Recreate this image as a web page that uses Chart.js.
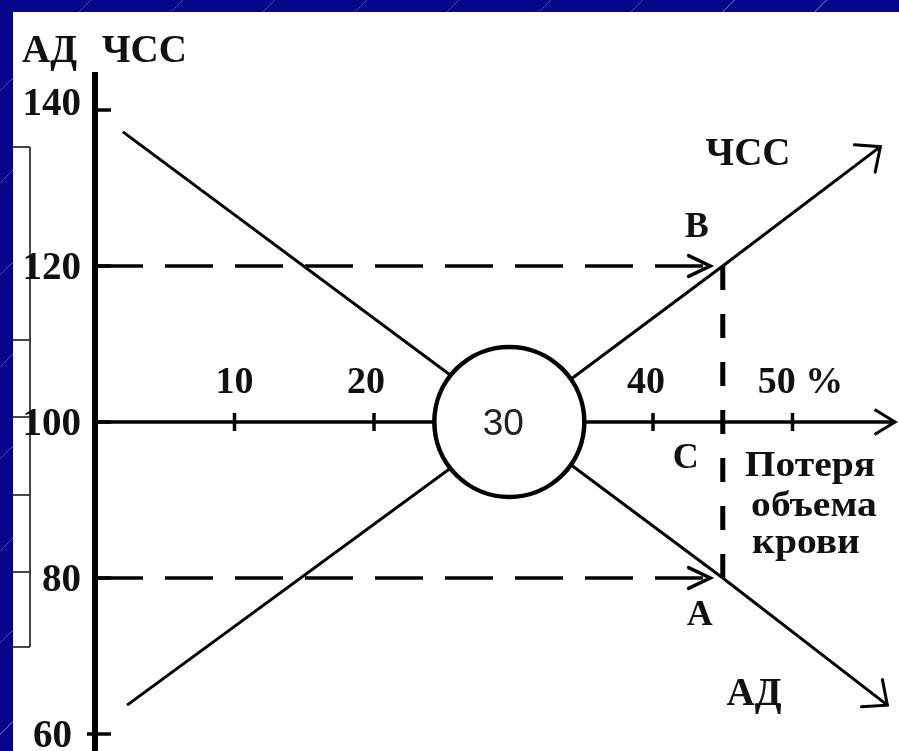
<!DOCTYPE html>
<html>
<head>
<meta charset="utf-8">
<script src="https://cdn.jsdelivr.net/npm/chart.js@4.4.1/dist/chart.umd.min.js"></script>
<style>
  html, body { margin: 0; padding: 0; }
  #frame {
    position: relative; width: 899px; height: 751px; overflow: hidden;
    background-color: #06068c;
    background-image: repeating-linear-gradient(135deg, transparent 0 64px, rgba(140,150,255,0.45) 64px 65px);
  }
  #sheet { position: absolute; left: 13px; top: 12px; right: 0; bottom: 0; background: #fff; }
  #chart { position: absolute; left: 0; top: 0; }
</style>
</head>
<body>
<div id="frame">
  <div id="sheet"></div>
  <canvas id="chart" width="899" height="751"></canvas>
</div>
<script>
// ЧСС (heart rate) and АД (blood pressure) against blood volume loss, %
const hrLoss = [2.3, 30, 45, 56.3];
const hrValue = [63.7, 100, 120, 135.3];
const bpLoss = [2.0, 30, 45, 56.8];
const bpValue = [137.2, 100, 80, 63.7];

const circleLoss = 29.7;   // circled "30"
const circleValue = 100;
const markLoss = 45;       // point C
const markHr = 120;        // point B
const markBp = 80;         // point A
const guideEnd = 44.1;     // where the dashed arrows stop

const xTicks = [10, 20, 30, 40, 50];
const xTickLabels = ['10', '20', '', '40', '50 %'];
const yTicks = [60, 80, 100, 120, 140];
const yTickLabels = ['60', '80', '100', '120', '140'];
const xAxisEnd = 57.35;

const serif = '"Liberation Serif", "Times New Roman", serif';

function seg(ctx, x1, y1, x2, y2) {
  ctx.beginPath();
  ctx.moveTo(x1, y1);
  ctx.lineTo(x2, y2);
  ctx.stroke();
}

function arrowHead(ctx, fx, fy, tx, ty, len, spread) {
  const a = Math.atan2(ty - fy, tx - fx);
  ctx.beginPath();
  ctx.moveTo(tx - len * Math.cos(a - spread), ty - len * Math.sin(a - spread));
  ctx.lineTo(tx, ty);
  ctx.lineTo(tx - len * Math.cos(a + spread), ty - len * Math.sin(a + spread));
  ctx.stroke();
}

function label(ctx, str, x, y, font, align, sx) {
  ctx.save();
  ctx.font = font;
  ctx.textAlign = align || 'center';
  ctx.textBaseline = 'alphabetic';
  ctx.translate(x, y);
  ctx.scale(sx || 1, 1);
  ctx.fillText(str, 0, 0);
  ctx.restore();
}

const sketch = {
  id: 'sketch',
  beforeDatasetsDraw(chart) {
    const {ctx, chartArea, scales: {x, y}} = chart;
    const y0 = y.getPixelForValue(100);
    const x0 = x.getPixelForValue(0);
    ctx.save();
    ctx.strokeStyle = '#000';
    ctx.lineCap = 'butt';

    // x axis with arrow
    ctx.lineWidth = 3.5;
    const xEnd = x.getPixelForValue(xAxisEnd);
    seg(ctx, x0, y0, xEnd, y0);
    ctx.lineWidth = 3;
    arrowHead(ctx, x0, y0, xEnd, y0, 24, 0.55);
    ctx.lineWidth = 3.5;
    xTicks.forEach(v => {
      const px = x.getPixelForValue(v);
      seg(ctx, px, y0 - 9, px, y0 + 9);
    });

    // y axis
    ctx.lineWidth = 6;
    seg(ctx, x0, chartArea.top, x0, chartArea.bottom);
    ctx.lineWidth = 3.5;
    yTicks.forEach((v, i) => {
      const py = y.getPixelForValue(v);
      seg(ctx, x0 - (i === 0 ? 8 : 0), py, x0 + 16, py);
    });

    // clipped bracket on the left edge of the slide
    ctx.strokeStyle = '#333';
    ctx.lineWidth = 1.8;
    seg(ctx, 30, 147, 30, 647);
    [147, 340, 417, 495, 572, 647].forEach(py => seg(ctx, 13, py, 30, py));
    ctx.restore();
  },
  afterDatasetsDraw(chart) {
    const {ctx, scales: {x, y}} = chart;
    ctx.save();
    ctx.strokeStyle = '#000';
    ctx.lineCap = 'round';
    chart.data.datasets.forEach((ds, i) => {
      if (!ds.arrow) return;
      const pts = chart.getDatasetMeta(i).data;
      const a = pts[pts.length - 2], b = pts[pts.length - 1];
      ctx.lineWidth = ds.borderWidth;
      arrowHead(ctx, a.x, a.y, b.x, b.y, ds.arrow.len, ds.arrow.spread);
    });

    ctx.fillStyle = '#111';
    const big = 'bold 39px ' + serif;
    const mid = 'bold 36px ' + serif;

    // axis titles
    label(ctx, 'АД', 22, 62, big, 'left');
    label(ctx, 'ЧСС', 102, 62, big, 'left');

    // y tick labels
    const yNudge = {60: [-9, 0], 140: [0, -8]};
    yTicks.forEach((v, i) => {
      const n = yNudge[v] || [0, 0];
      label(ctx, yTickLabels[i], 81 + n[0], y.getPixelForValue(v) + 13 + n[1], big, 'right');
    });

    // x tick labels above the axis
    const y0 = y.getPixelForValue(100);
    const xNudge = [0, -8, 0, -7, 8];
    xTicks.forEach((v, i) => {
      if (!xTickLabels[i]) return;
      label(ctx, xTickLabels[i], x.getPixelForValue(v) + xNudge[i], y0 - 29, 'bold 38px ' + serif, 'center');
    });

    // circled value
    ctx.fillStyle = '#222';
    label(ctx, '30', x.getPixelForValue(circleLoss) - 6, y0 + 13, '37px "Liberation Sans", Arial, sans-serif', 'center');
    ctx.fillStyle = '#111';

    // point names
    const cx = x.getPixelForValue(markLoss);
    label(ctx, 'B', cx - 26, y.getPixelForValue(markHr) - 29, mid, 'center');
    label(ctx, 'A', cx - 23, y.getPixelForValue(markBp) + 47, mid, 'center');
    label(ctx, 'C', cx - 37, y0 + 46, mid, 'center');

    // line names
    label(ctx, 'ЧСС', 748, 165, big, 'center');
    label(ctx, 'АД', 754, 705, big, 'center');

    // axis caption
    label(ctx, 'Потеря', 810, 476, mid, 'center', 1.1);
    label(ctx, 'объема', 814, 516, mid, 'center', 1.1);
    label(ctx, 'крови', 806, 553, mid, 'center', 1.1);
    ctx.restore();
  }
};

const toPoints = (xs, ys) => xs.map((v, i) => ({x: v, y: ys[i]}));

new Chart(document.getElementById('chart'), {
  type: 'scatter',
  data: {
    datasets: [
      {
        label: '30',
        data: [{x: circleLoss, y: circleValue}],
        pointRadius: 75,
        pointBackgroundColor: '#fff',
        pointBorderColor: '#000',
        pointBorderWidth: 4.5,
        order: 0
      },
      {
        label: 'ЧСС',
        data: toPoints(hrLoss, hrValue),
        showLine: true,
        borderColor: '#000',
        borderWidth: 3,
        pointRadius: 0,
        order: 1,
        arrow: {len: 26, spread: 0.72}
      },
      {
        label: 'АД',
        data: toPoints(bpLoss, bpValue),
        showLine: true,
        borderColor: '#000',
        borderWidth: 3,
        pointRadius: 0,
        order: 1,
        arrow: {len: 26, spread: 0.72}
      },
      {
        label: 'B',
        data: [{x: 0, y: markHr}, {x: guideEnd, y: markHr}],
        showLine: true,
        borderColor: '#000',
        borderWidth: 3.5,
        borderDash: [48, 22],
        pointRadius: 0,
        order: 2,
        arrow: {len: 24, spread: 0.45}
      },
      {
        label: 'A',
        data: [{x: 0, y: markBp}, {x: guideEnd, y: markBp}],
        showLine: true,
        borderColor: '#000',
        borderWidth: 3.5,
        borderDash: [48, 22],
        pointRadius: 0,
        order: 2,
        arrow: {len: 24, spread: 0.45}
      },
      {
        label: 'C',
        data: [{x: markLoss, y: markHr}, {x: markLoss, y: markBp}],
        showLine: true,
        borderColor: '#000',
        borderWidth: 5,
        borderDash: [24, 24],
        pointRadius: 0,
        order: 2
      }
    ]
  },
  options: {
    responsive: false,
    devicePixelRatio: 1,
    animation: false,
    layout: {autoPadding: false, padding: {left: 95, top: 72, right: 2, bottom: 0}},
    plugins: {legend: {display: false}, tooltip: {enabled: false}},
    scales: {
      x: {type: 'linear', min: 0, max: 57.49, display: false},
      y: {type: 'linear', min: 57.82, max: 144.872, display: false}
    }
  },
  plugins: [sketch]
});
</script>
</body>
</html>
